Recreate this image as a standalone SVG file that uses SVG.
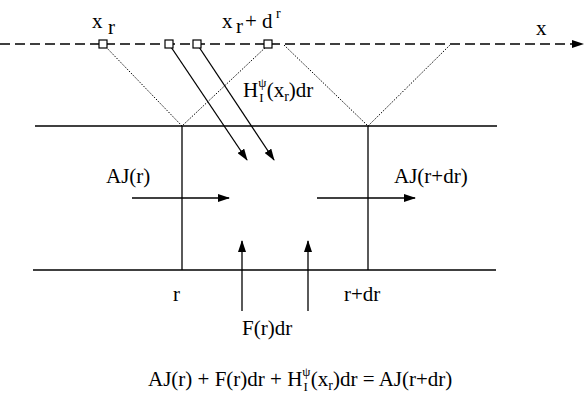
<svg xmlns="http://www.w3.org/2000/svg" width="584" height="398" viewBox="0 0 584 398">
<defs>
<marker id="ah" markerUnits="userSpaceOnUse" markerWidth="12" markerHeight="8" refX="11" refY="4" orient="auto">
<path d="M0,0 L12,4 L0,8 Z" fill="#000"/>
</marker>
<style>
.t{font-family:"Liberation Serif","Times New Roman",serif;font-size:21px;fill:#000}
.s{font-size:14px}
.ss{font-size:13px}
.ln{stroke:#000;stroke-width:1.3;fill:none}
.dot{stroke:#000;stroke-width:1;stroke-dasharray:1.5 1.5;fill:none}
.sq{stroke:#000;stroke-width:1.2;fill:#fff}
</style>
</defs>
<rect width="584" height="398" fill="#fff"/>
<g id="axis">
<line x1="0" y1="44" x2="583" y2="44" stroke="#000" stroke-width="1.3" stroke-dasharray="10 5" marker-end="url(#ah)"/>
<text class="t" x="536" y="35">x</text>
</g>
<g id="strip">
<line class="ln" x1="35" y1="126" x2="497" y2="126"/>
<line class="ln" x1="33" y1="270" x2="496" y2="270"/>
<line class="ln" x1="182" y1="126" x2="182" y2="270"/>
<line class="ln" x1="368" y1="126" x2="368" y2="270"/>
</g>
<g id="dotted">
<polyline class="dot" points="104,45 182,126 268,45"/>
<polyline class="dot" points="284,45 368,126 450,45"/>
</g>
<g id="connectors">
<line class="ln" x1="169" y1="44" x2="247" y2="160" marker-end="url(#ah)"/>
<line class="ln" x1="197" y1="44" x2="274" y2="160" marker-end="url(#ah)"/>
<line class="ln" x1="132" y1="198" x2="229" y2="198" marker-end="url(#ah)"/>
<line class="ln" x1="317" y1="198" x2="415" y2="198" marker-end="url(#ah)"/>
<line class="ln" x1="242" y1="311" x2="242" y2="241" marker-end="url(#ah)"/>
<line class="ln" x1="308" y1="311" x2="308" y2="241" marker-end="url(#ah)"/>
</g>
<g id="squares">
<rect class="sq" x="99" y="40" width="8" height="8"/>
<rect class="sq" x="165" y="40" width="8" height="8"/>
<rect class="sq" x="193" y="40" width="8" height="8"/>
<rect class="sq" x="264" y="40" width="8" height="8"/>
</g>
<g id="label-xr">
<text class="t" x="92" y="28">x</text>
<text class="t" x="108" y="34">r</text>
</g>
<g id="label-xrdr">
<text class="t" x="222" y="28">x</text>
<text class="t" x="236" y="33">r</text>
<text class="t" x="245" y="28">+ d</text>
<text class="t s" x="276" y="18">r</text>
</g>
<g id="label-H">
<text class="t" x="243" y="97">H<tspan class="ss" dy="-10">ψ</tspan><tspan class="ss" dx="-7" dy="15">I</tspan><tspan dx="3" dy="-5">(x</tspan><tspan class="s" dy="4">r</tspan><tspan dy="-4">)dr</tspan></text>
</g>
<g id="label-AJr"><text class="t" x="106" y="183">AJ(r)</text></g>
<g id="label-AJrdr"><text class="t" x="394" y="183">AJ(r+dr)</text></g>
<g id="label-r"><text class="t" x="173" y="301">r</text></g>
<g id="label-rdr"><text class="t" x="344" y="301">r+dr</text></g>
<g id="label-F"><text class="t" x="242" y="335">F(r)dr</text></g>
<g id="equation">
<text class="t" x="148" y="386">AJ(r) + F(r)dr + H<tspan class="ss" dy="-10">ψ</tspan><tspan class="ss" dx="-7" dy="15">I</tspan><tspan dx="3" dy="-5">(x</tspan><tspan class="s" dy="4">r</tspan><tspan dy="-4">)dr = AJ(r+dr)</tspan></text>
</g>
</svg>
